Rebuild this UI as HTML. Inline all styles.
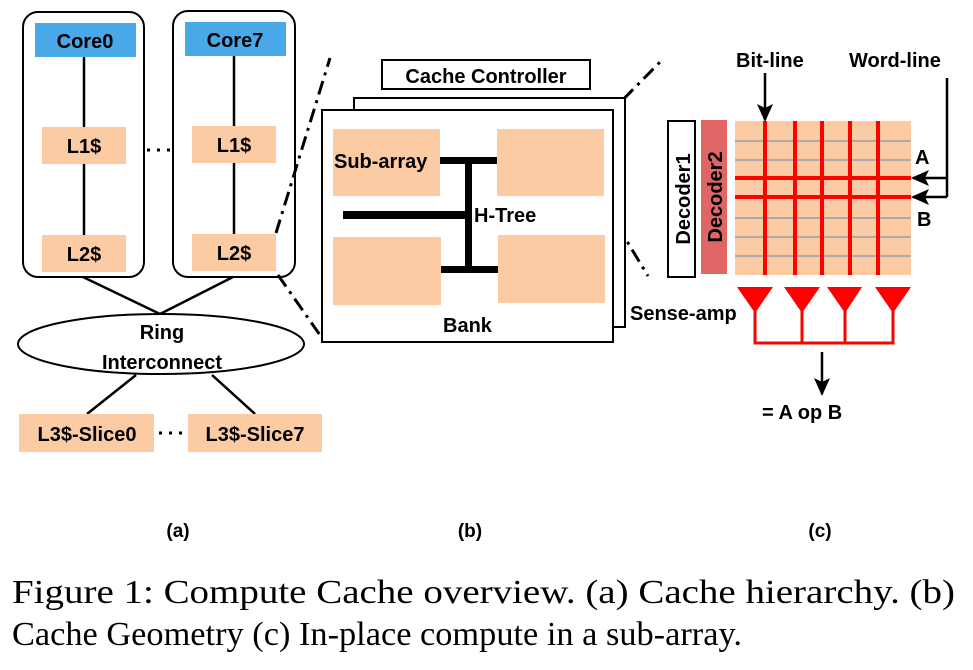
<!DOCTYPE html>
<html><head><meta charset="utf-8"><style>
html,body{margin:0;padding:0;background:#fff;}
svg text{font-family:"Liberation Sans",sans-serif;font-weight:bold;}
</style></head><body>
<svg width="973" height="665" viewBox="0 0 973 665" xmlns="http://www.w3.org/2000/svg">
<defs>
<marker id="ah" markerWidth="18" markerHeight="16" refX="16" refY="8" orient="auto" markerUnits="userSpaceOnUse"><path d="M0,0 L18,8 L0,16 L4,8 Z" fill="#000"/></marker>
</defs>
<!-- (a) -->
<rect x="23" y="12" width="121" height="265" rx="15" fill="none" stroke="#000" stroke-width="2"/>
<rect x="173" y="11" width="122" height="266" rx="15" fill="none" stroke="#000" stroke-width="2"/>
<line x1="84" y1="57" x2="84" y2="235" stroke="#000" stroke-width="2.5"/>
<line x1="234" y1="56" x2="234" y2="234" stroke="#000" stroke-width="2.5"/>
<rect x="35" y="23" width="101" height="34" fill="#48a8e8"/>
<rect x="185" y="22" width="101" height="34" fill="#48a8e8"/>
<rect x="42" y="127" width="84" height="37" fill="#fbcba4"/>
<rect x="192" y="126" width="84" height="37" fill="#fbcba4"/>
<rect x="42" y="235" width="84" height="37" fill="#fbcba4"/>
<rect x="192" y="234" width="84" height="37" fill="#fbcba4"/>
<g font-size="20" text-anchor="middle">
<text x="85" y="48">Core0</text><text x="235" y="47">Core7</text>
<text x="84" y="153">L1$</text><text x="234" y="152">L1$</text>
<text x="84" y="261">L2$</text><text x="234" y="260">L2$</text>
</g>
<line x1="147" y1="150" x2="172" y2="150" stroke="#000" stroke-width="3" stroke-dasharray="3,7"/>
<line x1="83" y1="277" x2="160" y2="314" stroke="#000" stroke-width="2.5"/>
<line x1="233" y1="277" x2="160" y2="314" stroke="#000" stroke-width="2.5"/>
<ellipse cx="161" cy="344" rx="143" ry="30" fill="none" stroke="#000" stroke-width="2"/>
<g font-size="20" text-anchor="middle"><text x="162" y="339">Ring</text><text x="162" y="369">Interconnect</text></g>
<line x1="136" y1="375" x2="87" y2="414" stroke="#000" stroke-width="2.5"/>
<line x1="212" y1="375" x2="255" y2="414" stroke="#000" stroke-width="2.5"/>
<rect x="19" y="414" width="135" height="38" fill="#fbcba4"/>
<rect x="188" y="414" width="134" height="38" fill="#fbcba4"/>
<g font-size="20" text-anchor="middle"><text x="87" y="441">L3$-Slice0</text><text x="255" y="441">L3$-Slice7</text></g>
<line x1="159" y1="433" x2="186" y2="433" stroke="#000" stroke-width="3" stroke-dasharray="3,7"/>
<!-- dash-dot zoom lines -->
<g stroke="#000" stroke-width="3" stroke-dasharray="14,6,3,6" fill="none">
<line x1="276" y1="233" x2="330" y2="58"/>
<line x1="278" y1="275" x2="322" y2="338"/>
<line x1="603" y1="120" x2="662" y2="60"/>
<line x1="602" y1="200" x2="648" y2="276"/>
</g>
<!-- (b) -->
<rect x="382" y="60" width="208" height="29" fill="#fff" stroke="#000" stroke-width="2"/>
<text x="486" y="83" font-size="20" text-anchor="middle">Cache Controller</text>
<rect x="354" y="98" width="271" height="229" fill="#fff" stroke="#000" stroke-width="2"/>
<rect x="322" y="110" width="291" height="232" fill="#fff" stroke="#000" stroke-width="2"/>
<rect x="333" y="129" width="107" height="67" fill="#fbcba4"/>
<rect x="497" y="129" width="107" height="67" fill="#fbcba4"/>
<rect x="333" y="237" width="108" height="68" fill="#fbcba4"/>
<rect x="498" y="235" width="107" height="68" fill="#fbcba4"/>
<g fill="#000">
<rect x="465" y="160" width="7" height="112"/>
<rect x="440" y="157" width="57" height="7"/>
<rect x="441" y="266" width="57" height="7"/>
<rect x="343" y="211" width="125" height="8"/>
</g>
<g font-size="20"><text x="334" y="168">Sub-array</text><text x="474" y="222">H-Tree</text><text x="443" y="332">Bank</text><text x="630" y="320">Sense-amp</text></g>
<!-- (c) -->
<rect x="668" y="121" width="27" height="156" fill="#fff" stroke="#000" stroke-width="2"/>
<rect x="701" y="120" width="26" height="154" fill="#e06666"/>
<text transform="translate(690,199) rotate(-90)" font-size="20" text-anchor="middle">Decoder1</text>
<text transform="translate(722,197) rotate(-90)" font-size="20" text-anchor="middle">Decoder2</text>
<rect x="735" y="121" width="176" height="154" fill="#fbcba4"/>
<g stroke="#aaa" stroke-width="2">
<line x1="735" y1="141" x2="911" y2="141"/><line x1="735" y1="160" x2="911" y2="160"/>
<line x1="735" y1="218" x2="911" y2="218"/><line x1="735" y1="237" x2="911" y2="237"/>
<line x1="735" y1="256" x2="911" y2="256"/>
</g>
<g stroke="#f00" stroke-width="4">
<line x1="765" y1="121" x2="765" y2="275"/><line x1="795" y1="121" x2="795" y2="275"/>
<line x1="822" y1="121" x2="822" y2="275"/><line x1="850" y1="121" x2="850" y2="275"/>
<line x1="878" y1="121" x2="878" y2="275"/>
<line x1="735" y1="178" x2="911" y2="178"/><line x1="735" y1="197" x2="911" y2="197"/>
</g>
<g font-size="20"><text x="736" y="67">Bit-line</text><text x="849" y="67">Word-line</text><text x="915" y="164">A</text><text x="917" y="226">B</text><text x="762" y="419">= A op B</text></g>
<line x1="765" y1="73" x2="765" y2="120" stroke="#000" stroke-width="2.5" marker-end="url(#ah)"/>
<polyline points="947,78 947,197" fill="none" stroke="#000" stroke-width="2.5"/>
<line x1="947" y1="178" x2="913" y2="178" stroke="#000" stroke-width="2.5" marker-end="url(#ah)"/>
<line x1="947" y1="197" x2="913" y2="197" stroke="#000" stroke-width="2.5" marker-end="url(#ah)"/>
<g fill="#f00">
<polygon points="737,287 773,287 755,313"/><polygon points="784,287 820,287 802,313"/>
<polygon points="827,287 862,287 845,313"/><polygon points="875,287 911,287 893,313"/>
</g>
<g stroke="#f00" stroke-width="3" fill="none">
<polyline points="755,310 755,343 893,343 893,310"/>
<line x1="802" y1="310" x2="802" y2="343"/><line x1="845" y1="310" x2="845" y2="343"/>
</g>
<line x1="822" y1="352" x2="822" y2="394" stroke="#000" stroke-width="2.5" marker-end="url(#ah)"/>
<!-- labels -->
<g font-size="19" text-anchor="middle"><text x="178" y="537">(a)</text><text x="470" y="537">(b)</text><text x="820" y="537">(c)</text></g>
<text x="12" y="603" font-size="34" textLength="943" lengthAdjust="spacingAndGlyphs" style="font-family:'Liberation Serif',serif;font-weight:normal">Figure 1: Compute Cache overview. (a) Cache hierarchy. (b)</text>
<text x="12" y="645" font-size="34" textLength="730" lengthAdjust="spacingAndGlyphs" style="font-family:'Liberation Serif',serif;font-weight:normal">Cache Geometry (c) In-place compute in a sub-array.</text>
</svg>
</body></html>
